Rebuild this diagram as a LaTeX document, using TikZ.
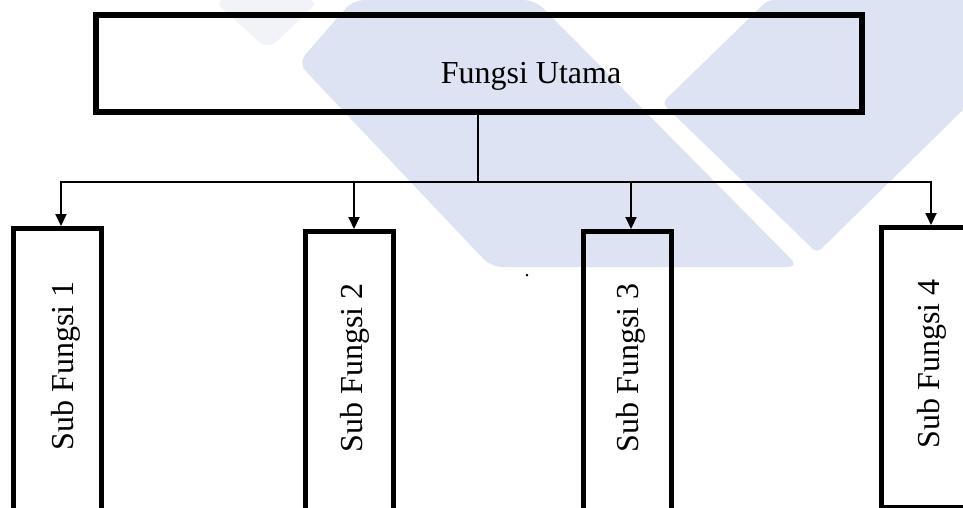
\documentclass[tikz,border=0pt]{standalone}
\usepackage{fontspec}
\setmainfont{Liberation Serif}
\usetikzlibrary{arrows.meta}

\definecolor{logoblue}{RGB}{221,227,242}
\definecolor{logofaint}{RGB}{241,243,249}

\tikzset{
  mainbox/.style={draw, line width=6pt, minimum width=766pt, minimum height=97pt},
  subbox/.style={draw, line width=5pt, minimum width=88pt},
  boxtext/.style={font=\fontsize{32}{38}\selectfont},
  subtext/.style={boxtext, rotate=90},
  link/.style={line width=2pt},
  flow/.style={line width=2pt, -{Triangle[length=12pt,width=11pt]}},
}

\begin{document}
\begin{tikzpicture}[x=1pt, y=-1pt]
        \useasboundingbox (0,0) rectangle (963,507);
        \clip (0,0) rectangle (963,507);
        % logo in the background
        \fill[logofaint, rounded corners=12pt] (213,0) -- (268,50) -- (320,0) -- cycle;
        \fill[logoblue, rounded corners=11pt] (353,0) -- (535,0) -- (799,267) -- (491,267) -- (298,63) -- cycle;
        \fill[logoblue, rounded corners=6pt] (768,0) -- (970,0) -- (970,103) -- (817,253) -- (662,103) -- cycle;

        % boxes
        \node[mainbox] (main) at (479,63.5) {};
        \node[boxtext, anchor=base] (maintext) at (531,83) {Fungsi Utama};
        \node[subbox, minimum height=282.5pt] (sub1) at (57.5,369.75) {};
        \node[subbox, minimum height=279.5pt] (sub2) at (349.5,371.25) {};
        \node[subbox, minimum height=279.5pt] (sub3) at (627.5,371.25) {};
        \node[subbox, minimum height=279.5pt] (sub4) at (925.5,367.25) {};
        \node[subtext] (t1) at (66,366) {Sub Fungsi 1};
        \node[subtext] (t2) at (355,368) {Sub Fungsi 2};
        \node[subtext] (t3) at (631,368) {Sub Fungsi 3};
        \node[subtext] (t4) at (932,364) {Sub Fungsi 4};
        \node[font=\fontsize{20}{24}\selectfont, anchor=base] (dot) at (527,276) {.};

        % connectors
        \coordinate (hub) at (478,182);
        \coordinate (busL) at (61,182);
        \coordinate (busR) at (931,182);
        \coordinate (drop2) at (354,182);
        \coordinate (drop3) at (631,182);
        \draw[link] (hub |- main.south) -- (hub);
        \draw[flow] (hub) -- (busL) -- (busL |- sub1.north);
        \draw[flow] (hub) -- (busR) -- (busR |- sub4.north);
        \draw[flow] (drop2) -- (drop2 |- sub2.north);
        \draw[flow] (drop3) -- (drop3 |- sub3.north);
      \end{tikzpicture}
\end{document}
